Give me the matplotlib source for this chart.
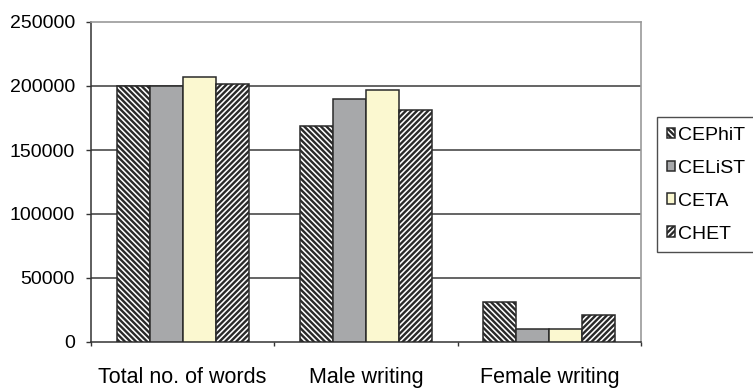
import matplotlib
matplotlib.use('Agg')
import matplotlib.pyplot as plt
import numpy as np

categories = ['Total no. of words', 'Male writing', 'Female writing']
series = ['CEPhiT', 'CELiST', 'CETA', 'CHET']
cephit = [200000, 169000, 31000]
celist = [200000, 190000, 10500]
ceta = [207000, 196500, 10500]
chet = [201500, 181500, 21000]
y_ticks = [0, 50000, 100000, 150000, 200000, 250000]

plt.rcParams['font.family'] = ['Liberation Sans', 'DejaVu Sans']
plt.rcParams['hatch.linewidth'] = 1.7
plt.rcParams['hatch.color'] = '#1e1e1e'

fig = plt.figure(figsize=(7.53, 3.88), dpi=100)
ax = fig.add_axes([91 / 753, 1 - 342 / 388, 550 / 753, 320 / 388])

x = np.arange(len(categories))
width = 0.18
styles = [
    dict(facecolor='white', hatch='\\' * 6),
    dict(facecolor='#a7a8aa', hatch=None),
    dict(facecolor='#fbf8d0', hatch=None),
    dict(facecolor='white', hatch='/' * 6),
]
for i, (name, vals, st) in enumerate(zip(series, [cephit, celist, ceta, chet], styles)):
    ax.bar(x + (i - 1.5) * width, vals, width, label=name, edgecolor='#2a2a2a',
           linewidth=1.1, zorder=3, **st)

ax.set_xlim(-0.5, 2.5)
ax.set_ylim(0, 250000)
ax.set_yticks(y_ticks)
ax.set_yticklabels([str(v) for v in y_ticks], fontsize=14)
for v in y_ticks[1:-1]:
    ax.axhline(v, color='#3a3a3a', linewidth=1.1, zorder=1)

ax.set_xticks(x)
ax.set_xticklabels(categories, fontsize=15.5)
ax.set_xticks([-0.5, 0.5, 1.5, 2.5], minor=True)
ax.tick_params(axis='x', which='major', length=0, pad=18)
ax.tick_params(axis='x', which='minor', length=3, width=1, color='#333333', direction='out')
ax.tick_params(axis='y', length=3.6, width=1, color='#333333', pad=8)

for side in ['left', 'bottom']:
    ax.spines[side].set_color('#333333')
    ax.spines[side].set_linewidth(1.1)
for side in ['top', 'right']:
    ax.spines[side].set_color('#9a9a9a')
    ax.spines[side].set_linewidth(1.2)

leg = fig.legend(loc='upper left', bbox_to_anchor=(657 / 753, 1 - 117 / 388),
                 fontsize=14, frameon=True, fancybox=False, handlelength=0.45,
                 handleheight=0.45, handletextpad=0.15, labelspacing=0.82,
                 borderpad=0.5, borderaxespad=0)
leg.get_frame().set_edgecolor('#222222')
leg.get_frame().set_linewidth(1.0)

fig.savefig('out.png', dpi=100)
